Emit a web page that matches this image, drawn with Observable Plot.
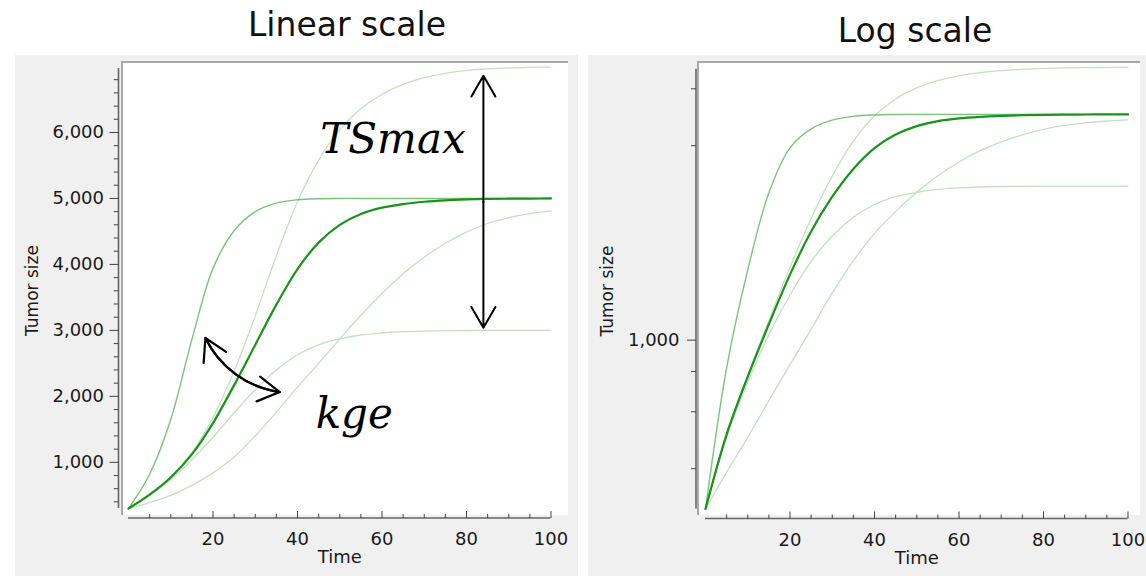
<!DOCTYPE html>
<html><head><meta charset="utf-8">
<script src="https://cdn.jsdelivr.net/npm/d3@7"></script>
<script src="https://cdn.jsdelivr.net/npm/@observablehq/plot@0.6"></script>
<style>
body{margin:0;background:#fff;width:1146px;height:576px;position:relative;overflow:hidden;font-family:"DejaVu Sans",sans-serif;}
.panel{position:absolute;background:#f0f0f0;}
.title{position:absolute;font-size:33px;color:#111;white-space:nowrap;transform:translateX(-50%);line-height:1;}
</style></head><body>
<div class="title" style="left:347px;top:8px">Linear scale</div>
<div class="title" style="left:915px;top:14px">Log scale</div>
<div id="left" class="panel" style="left:15px;top:55px;width:563px;height:521px"></div>
<div id="right" class="panel" style="left:588px;top:55px;width:558px;height:521px"></div>
<script>
// ---- data ----
const time = [0,5,10,15,20,25,30,35,40,45,50,55,60,65,70,75,80,85,90,95,100];
const tsReference = [300,510,770,1120,1595,2170,2780,3390,3930,4330,4600,4765,4860,4915,4950,4972,4985,4992,4996,4998,5000];
const tsHighKge   = [300,820,1650,2860,3940,4510,4800,4930,4980,4996,5000,5000,5000,5000,5000,5000,5000,5000,5000,5000,5000];
const tsHighMax   = [300,515,780,1150,1680,2380,3220,4130,4950,5580,6040,6360,6580,6730,6830,6895,6940,6965,6980,6988,6992];
const tsLowMax    = [300,500,740,1040,1380,1750,2100,2400,2630,2780,2870,2930,2960,2980,2990,2995,2998,3000,3000,3000,3000];
const tsLowKge    = [300,390,500,650,840,1080,1400,1760,2140,2500,2870,3230,3560,3860,4110,4320,4490,4620,4710,4770,4810];

const xMajorTicks = [20,40,60,80,100];
const xMinorTicks = [5,10,15,25,30,35,45,50,55,65,70,75,85,90,95];
const linMajorTicks = [1000,2000,3000,4000,5000,6000];
const linMinorTicks = [400,600,800,1200,1400,1600,1800,2200,2400,2600,2800,3200,3400,3600,3800,4200,4400,4600,4800,5200,5400,5600,5800,6200,6400,6600,6800];
const logMajorTicks = [1000];
const logMinorTicks = [400,600,800,4000,6000];
const yDomain = [300,7000];

const toRows = (arr, series) => arr.map((v,i) => ({time: time[i], size: v, series}));
const faintRows = [...toRows(tsHighMax,"highMax"), ...toRows(tsLowMax,"lowMax"), ...toRows(tsLowKge,"lowKge")];
const fastRows = toRows(tsHighKge,"highKge");
const mainRows = toRows(tsReference,"reference");

const C_MAIN = "#1b931b", C_FAST = "#7cc27c", C_FAINT = "#c2e1c2";
const fmt = d3.format(",");
const CURVE = "catmull-rom";

function backdrop(pad) {
  return (index, {x, y}) => {
    const x0 = x(0), x1 = x(100), yT = y(yDomain[1]), yB = y(yDomain[0]);
    const g = d3.create("svg:g");
    const L = x0 - pad.left, R = x1 + pad.right, T = yT - pad.top, B = yB + pad.bottom;
    g.append("rect").attr("x", L).attr("y", T).attr("width", R - L).attr("height", B - T).attr("fill", "#fff");
    g.append("path").attr("d", `M${L},${B}V${T}H${R}`).attr("fill","none").attr("stroke","#a9a9a9").attr("stroke-width",2);
    g.append("line").attr("x1", x0 + pad.axisDx).attr("x2", x0 + pad.axisDx).attr("y1", yT + 2).attr("y2", yB)
      .attr("stroke","#666").attr("stroke-width",1.6);
    g.append("line").attr("x1", x0).attr("x2", x1).attr("y1", yB + 10).attr("y2", yB + 10)
      .attr("stroke","#666").attr("stroke-width",1.6);
    return g.node();
  };
}

function commonMarks() {
  return [
    Plot.axisX({ticks: xMajorTicks, tickSize: 7, dy: 3, tickFormat: () => "", stroke: "#444"}),
    Plot.axisX({ticks: xMinorTicks, tickSize: 4, dy: 6, tickFormat: () => "", stroke: "#444"}),
    Plot.axisX({ticks: xMajorTicks, tickSize: 0, tickPadding: 24, fontSize: 18, fill: "#1a1a1a"}),
    Plot.line(faintRows, {x: "time", y: "size", z: "series", stroke: C_FAINT, strokeWidth: 1.3, curve: CURVE}),
    Plot.line(fastRows, {x: "time", y: "size", stroke: C_FAST, strokeWidth: 1.4, curve: CURVE}),
    Plot.line(mainRows, {x: "time", y: "size", stroke: C_MAIN, strokeWidth: 2.2, curve: CURVE}),
    Plot.text(["Time"], {frameAnchor: "bottom", textAnchor: "middle", lineAnchor: "middle", dy: 49, fontSize: 18, fill: "#1a1a1a"})
  ];
}

const left = Plot.plot({
  width: 563, height: 521,
  marginLeft: 113, marginRight: 27.5, marginTop: 11, marginBottom: 68,
  style: {background: "transparent", fontFamily: "DejaVu Sans", color: "#1a1a1a", overflow: "visible"},
  x: {domain: [0,100], label: null},
  y: {domain: yDomain, label: null},
  marks: [
    backdrop({left: 6, right: 17.5, top: 4, bottom: 7, axisDx: -9.5}),
    Plot.axisY({ticks: linMajorTicks, tickSize: 9, dx: -9.5, tickPadding: 6, tickFormat: fmt, fontSize: 18, stroke: "#444", fill: "#1a1a1a", label: null}),
    Plot.axisY({ticks: linMinorTicks, tickSize: 4.7, dx: -9.5, tickFormat: () => "", stroke: "#444", label: null}),
    ...commonMarks(),
    Plot.text(["Tumor size"], {frameAnchor: "left", textAnchor: "middle", lineAnchor: "middle", dx: -96, dy: 3, rotate: -90, fontSize: 17, fill: "#1a1a1a"}),
    Plot.text(["TSmax"], {x: 45.4, y: 5897, textAnchor: "start", fontSize: 42, fontStyle: "italic", fontFamily: "DejaVu Serif", fill: "#000"}),
    Plot.text(["kge"], {x: 44.3, y: 1728, textAnchor: "start", fontSize: 42, fontStyle: "italic", fontFamily: "DejaVu Serif", fill: "#000"}),
    Plot.arrow([{x1: 84, y1: 4950, x2: 84, y2: 6860}, {x1: 84, y1: 4950, x2: 84, y2: 3040}],
      {x1: "x1", y1: "y1", x2: "x2", y2: "y2", stroke: "#000", strokeWidth: 2, headLength: 18}),
    Plot.arrow([{x1: 18.2, y1: 2885, x2: 35.8, y2: 2065}],
      {x1: "x1", y1: "y1", x2: "x2", y2: "y2", bend: -28, stroke: "#000", strokeWidth: 2.2, headLength: 17}),
    Plot.arrow([{x1: 35.8, y1: 2065, x2: 18.2, y2: 2885}],
      {x1: "x1", y1: "y1", x2: "x2", y2: "y2", bend: 28, stroke: "#000", strokeWidth: 2.2, headLength: 17})
  ]
});
document.getElementById("left").append(left);

const right = Plot.plot({
  width: 558, height: 521,
  marginLeft: 117, marginRight: 18.5, marginTop: 11.7, marginBottom: 67.5,
  style: {background: "transparent", fontFamily: "DejaVu Sans", color: "#1a1a1a", overflow: "visible"},
  x: {domain: [0,100], label: null},
  y: {type: "log", domain: yDomain, label: null},
  marks: [
    backdrop({left: 7, right: 12.5, top: 4.7, bottom: 6.5, axisDx: -9}),
    Plot.axisY({ticks: logMajorTicks, tickSize: 9, dx: -9, tickPadding: 8, tickFormat: fmt, fontSize: 18, stroke: "#444", fill: "#1a1a1a", label: null}),
    Plot.axisY({ticks: logMinorTicks, tickSize: 5, dx: -9, tickFormat: () => "", stroke: "#444", label: null}),
    ...commonMarks(),
    Plot.text(["Tumor size"], {frameAnchor: "left", textAnchor: "middle", lineAnchor: "middle", dx: -98, dy: 3, rotate: -90, fontSize: 17, fill: "#1a1a1a"})
  ]
});
document.getElementById("right").append(right);
</script>
</body></html>
